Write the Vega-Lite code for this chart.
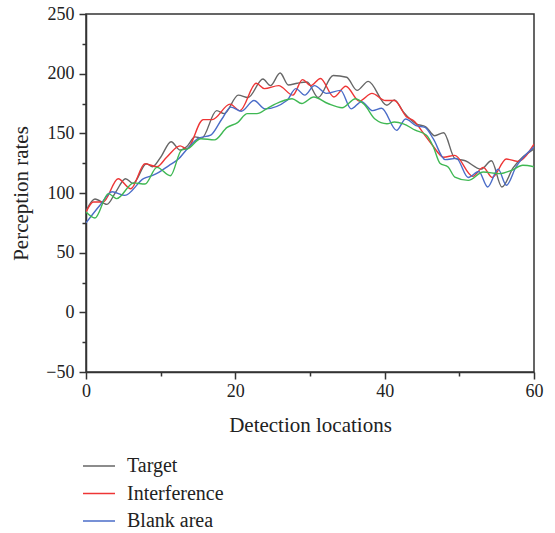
{
  "$schema": "https://vega.github.io/schema/vega-lite/v6.json",
  "width": 448,
  "height": 358,
  "autosize": {"type": "none"},
  "padding": {"left": 86, "top": 14, "right": 21, "bottom": 161},
  "background": "white",
  "config": {
    "view": {"stroke": "#333333", "strokeWidth": 1.5},
    "font": "Liberation Serif",
    "axis": {
      "domainColor": "#333333", "domainWidth": 1.5,
      "tickColor": "#333333", "tickWidth": 1.5,
      "labelFont": "Liberation Serif", "labelFontSize": 18, "labelColor": "#222222",
      "titleFont": "Liberation Serif", "titleFontSize": 21, "titleFontWeight": "normal", "titleColor": "#222222",
      "grid": false, "labelOverlap": false, "labelBound": false, "labelFlush": false
    }
  },
  "data": {"values": [
    {"series": "Target", "x": 0, "y": 85}, {"series": "Target", "x": 1.2, "y": 95}, {"series": "Target", "x": 2.8, "y": 90.5}, {"series": "Target", "x": 4, "y": 101}, {"series": "Target", "x": 5.3, "y": 112}, {"series": "Target", "x": 6.3, "y": 108}, {"series": "Target", "x": 8.1, "y": 124.5}, {"series": "Target", "x": 8.9, "y": 122}, {"series": "Target", "x": 10, "y": 130}, {"series": "Target", "x": 11.4, "y": 143}, {"series": "Target", "x": 12.6, "y": 136}, {"series": "Target", "x": 13.5, "y": 139}, {"series": "Target", "x": 14.6, "y": 147}, {"series": "Target", "x": 15.5, "y": 146}, {"series": "Target", "x": 17.5, "y": 169}, {"series": "Target", "x": 18.5, "y": 166.5}, {"series": "Target", "x": 20.4, "y": 182}, {"series": "Target", "x": 21.7, "y": 180}, {"series": "Target", "x": 23.7, "y": 195.5}, {"series": "Target", "x": 24.7, "y": 190}, {"series": "Target", "x": 26, "y": 200.5}, {"series": "Target", "x": 27.1, "y": 190.5}, {"series": "Target", "x": 28.3, "y": 192}, {"series": "Target", "x": 29.6, "y": 193}, {"series": "Target", "x": 31.1, "y": 180}, {"series": "Target", "x": 33.1, "y": 198.5}, {"series": "Target", "x": 34.9, "y": 197}, {"series": "Target", "x": 36.3, "y": 186}, {"series": "Target", "x": 37.8, "y": 193.5}, {"series": "Target", "x": 40.3, "y": 173.5}, {"series": "Target", "x": 41.3, "y": 178}, {"series": "Target", "x": 42.5, "y": 168}, {"series": "Target", "x": 44.2, "y": 158}, {"series": "Target", "x": 45.5, "y": 155.5}, {"series": "Target", "x": 46.7, "y": 148}, {"series": "Target", "x": 47.9, "y": 150.5}, {"series": "Target", "x": 49.4, "y": 129}, {"series": "Target", "x": 50.8, "y": 127}, {"series": "Target", "x": 52.9, "y": 120}, {"series": "Target", "x": 54.3, "y": 127}, {"series": "Target", "x": 55.7, "y": 105}, {"series": "Target", "x": 57.2, "y": 121}, {"series": "Target", "x": 60, "y": 137},
    {"series": "Interference", "x": 0, "y": 84}, {"series": "Interference", "x": 1, "y": 92.5}, {"series": "Interference", "x": 2.3, "y": 92.5}, {"series": "Interference", "x": 4.3, "y": 112}, {"series": "Interference", "x": 6, "y": 103.5}, {"series": "Interference", "x": 7.9, "y": 124.5}, {"series": "Interference", "x": 9.5, "y": 122}, {"series": "Interference", "x": 10.8, "y": 130}, {"series": "Interference", "x": 12.6, "y": 139.5}, {"series": "Interference", "x": 13.5, "y": 137}, {"series": "Interference", "x": 15.7, "y": 161.5}, {"series": "Interference", "x": 16.9, "y": 161.5}, {"series": "Interference", "x": 19.3, "y": 174.5}, {"series": "Interference", "x": 20.6, "y": 169}, {"series": "Interference", "x": 22.8, "y": 192}, {"series": "Interference", "x": 23.9, "y": 187.5}, {"series": "Interference", "x": 25.8, "y": 190}, {"series": "Interference", "x": 27.7, "y": 182}, {"series": "Interference", "x": 29, "y": 195}, {"series": "Interference", "x": 30.1, "y": 190}, {"series": "Interference", "x": 31.4, "y": 196}, {"series": "Interference", "x": 33.2, "y": 180.5}, {"series": "Interference", "x": 34.8, "y": 189.5}, {"series": "Interference", "x": 36.6, "y": 177}, {"series": "Interference", "x": 38.3, "y": 183.5}, {"series": "Interference", "x": 40.1, "y": 177.5}, {"series": "Interference", "x": 41.3, "y": 177.5}, {"series": "Interference", "x": 42.9, "y": 164}, {"series": "Interference", "x": 44, "y": 160}, {"series": "Interference", "x": 45.2, "y": 150}, {"series": "Interference", "x": 46.4, "y": 140}, {"series": "Interference", "x": 47.9, "y": 130}, {"series": "Interference", "x": 49.4, "y": 131.5}, {"series": "Interference", "x": 51.8, "y": 114}, {"series": "Interference", "x": 53.2, "y": 121.5}, {"series": "Interference", "x": 54.4, "y": 113}, {"series": "Interference", "x": 56.3, "y": 128.5}, {"series": "Interference", "x": 57.8, "y": 126.5}, {"series": "Interference", "x": 60, "y": 141},
    {"series": "Blank area", "x": 0, "y": 75}, {"series": "Blank area", "x": 1.9, "y": 90}, {"series": "Blank area", "x": 3.5, "y": 101}, {"series": "Blank area", "x": 5.2, "y": 98}, {"series": "Blank area", "x": 7.7, "y": 112}, {"series": "Blank area", "x": 9, "y": 115}, {"series": "Blank area", "x": 9.8, "y": 117.5}, {"series": "Blank area", "x": 11.1, "y": 123}, {"series": "Blank area", "x": 12.3, "y": 128}, {"series": "Blank area", "x": 13.7, "y": 138}, {"series": "Blank area", "x": 15.1, "y": 146}, {"series": "Blank area", "x": 16.7, "y": 148.5}, {"series": "Blank area", "x": 18.2, "y": 162}, {"series": "Blank area", "x": 19.4, "y": 172}, {"series": "Blank area", "x": 20.8, "y": 168.5}, {"series": "Blank area", "x": 22.5, "y": 177.5}, {"series": "Blank area", "x": 24, "y": 170.5}, {"series": "Blank area", "x": 26.9, "y": 177.5}, {"series": "Blank area", "x": 28.1, "y": 187.5}, {"series": "Blank area", "x": 29.3, "y": 182}, {"series": "Blank area", "x": 30.6, "y": 190}, {"series": "Blank area", "x": 32.2, "y": 183.5}, {"series": "Blank area", "x": 34.1, "y": 186}, {"series": "Blank area", "x": 35.5, "y": 170.5}, {"series": "Blank area", "x": 36.9, "y": 176.5}, {"series": "Blank area", "x": 38.4, "y": 169}, {"series": "Blank area", "x": 39.6, "y": 171}, {"series": "Blank area", "x": 41.6, "y": 152.5}, {"series": "Blank area", "x": 42.8, "y": 162}, {"series": "Blank area", "x": 44.2, "y": 156.5}, {"series": "Blank area", "x": 45.4, "y": 155}, {"series": "Blank area", "x": 46.5, "y": 145.5}, {"series": "Blank area", "x": 48.1, "y": 128}, {"series": "Blank area", "x": 49.6, "y": 129}, {"series": "Blank area", "x": 51.2, "y": 113}, {"series": "Blank area", "x": 52.6, "y": 118}, {"series": "Blank area", "x": 53.8, "y": 105}, {"series": "Blank area", "x": 55.2, "y": 120}, {"series": "Blank area", "x": 56.3, "y": 106.5}, {"series": "Blank area", "x": 57.6, "y": 122}, {"series": "Blank area", "x": 60, "y": 138.5},
    {"series": "Other", "x": 0, "y": 84}, {"series": "Other", "x": 1.2, "y": 79}, {"series": "Other", "x": 3, "y": 99.5}, {"series": "Other", "x": 4.1, "y": 95.3}, {"series": "Other", "x": 6.4, "y": 108.5}, {"series": "Other", "x": 7.9, "y": 107.5}, {"series": "Other", "x": 9.5, "y": 121.5}, {"series": "Other", "x": 11.3, "y": 114.5}, {"series": "Other", "x": 12.8, "y": 136}, {"series": "Other", "x": 13.6, "y": 137}, {"series": "Other", "x": 15.4, "y": 145.5}, {"series": "Other", "x": 17.2, "y": 144.5}, {"series": "Other", "x": 18.9, "y": 155}, {"series": "Other", "x": 20.3, "y": 159}, {"series": "Other", "x": 21.6, "y": 166.5}, {"series": "Other", "x": 22.9, "y": 166.5}, {"series": "Other", "x": 24.3, "y": 171}, {"series": "Other", "x": 26, "y": 176.3}, {"series": "Other", "x": 27.6, "y": 179}, {"series": "Other", "x": 28.9, "y": 175}, {"series": "Other", "x": 30.5, "y": 180.5}, {"series": "Other", "x": 32.4, "y": 175}, {"series": "Other", "x": 34.3, "y": 171.5}, {"series": "Other", "x": 36.1, "y": 179}, {"series": "Other", "x": 37.3, "y": 174}, {"series": "Other", "x": 38.7, "y": 162}, {"series": "Other", "x": 40.3, "y": 158}, {"series": "Other", "x": 41.3, "y": 159.5}, {"series": "Other", "x": 42.5, "y": 158}, {"series": "Other", "x": 44.1, "y": 152.6}, {"series": "Other", "x": 45.6, "y": 148.4}, {"series": "Other", "x": 46.5, "y": 139}, {"series": "Other", "x": 47.4, "y": 125}, {"series": "Other", "x": 48.5, "y": 121.8}, {"series": "Other", "x": 49.4, "y": 113.4}, {"series": "Other", "x": 51.2, "y": 110.6}, {"series": "Other", "x": 53.2, "y": 117.6}, {"series": "Other", "x": 55.4, "y": 116.2}, {"series": "Other", "x": 57, "y": 119}, {"series": "Other", "x": 58.5, "y": 123.2}, {"series": "Other", "x": 60, "y": 122}
  ]},
  "mark": {"type": "line", "interpolate": "monotone", "strokeWidth": 1.4, "clip": true},
  "encoding": {
    "x": {
      "field": "x", "type": "quantitative",
      "scale": {"domain": [0, 60], "nice": false, "zero": false},
      "axis": {
        "title": "Detection locations",
        "values": [0, 10, 20, 30, 40, 50, 60],
        "labelExpr": "datum.value % 20 === 0 ? datum.label : ''",
        "tickSize": {"condition": {"test": "datum.value % 20 === 0", "value": 7}, "value": 4},
        "titlePadding": 14, "labelPadding": 3
      }
    },
    "y": {
      "field": "y", "type": "quantitative",
      "scale": {"domain": [-50, 250], "nice": false, "zero": false},
      "axis": {
        "title": "Perception rates",
        "values": [-50, -25, 0, 25, 50, 75, 100, 125, 150, 175, 200, 225, 250],
        "labelExpr": "datum.value % 50 === 0 ? datum.label : ''",
        "tickSize": {"condition": {"test": "datum.value % 50 === 0", "value": 7}, "value": 4},
        "titlePadding": 14, "labelPadding": 5
      }
    },
    "color": {
      "field": "series", "type": "nominal",
      "scale": {"domain": ["Target", "Interference", "Blank area", "Other"], "range": ["#666666", "#ee3535", "#4a6cc8", "#3fb853"]},
      "legend": {
        "values": ["Target", "Interference", "Blank area"],
        "title": null, "orient": "none", "legendX": -4, "legendY": 435,
        "symbolType": "stroke", "symbolSize": 1024, "symbolStrokeWidth": 1.5,
        "labelFont": "Liberation Serif", "labelFontSize": 20, "labelColor": "#222222",
        "labelOffset": 11, "rowPadding": 0.5
      }
    },
    "order": {"field": "x", "type": "quantitative"}
  }
}
